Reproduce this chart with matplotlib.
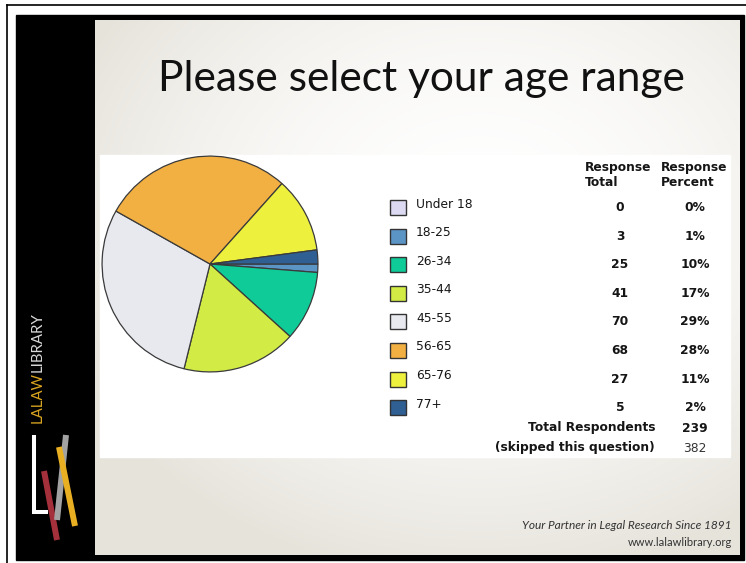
import numpy as np
import matplotlib
matplotlib.use('Agg')
import matplotlib.pyplot as plt
from matplotlib.patches import Rectangle

# ---------------- data ----------------
categories = ['Under 18', '18-25', '26-34', '35-44', '45-55', '56-65', '65-76', '77+']
totals = [0, 3, 25, 41, 70, 68, 27, 5]
percents = ['0%', '1%', '10%', '17%', '29%', '28%', '11%', '2%']
colors = ['#dcdaf2', '#5b95c6', '#0fcb98', '#d3ec45', '#e8e9ef', '#f2b043', '#eef03e', '#2f5f93']
total_respondents = '239'
skipped = '382'
title = 'Please select your age range'
footer1 = 'Your Partner in Legal Research Since 1891'
footer2 = 'www.lalawlibrary.org'

W, H = 746, 563
fig = plt.figure(figsize=(W / 100, H / 100), dpi=100)
fig.patch.set_facecolor('white')
bg = fig.add_axes([0, 0, 1, 1])
bg.axis('off')

# outer thin frame
bg.plot([7, 7], [5, H + 5], color='black', lw=1.2, zorder=1)
bg.plot([7, W + 5], [5, 5], color='black', lw=1.2, zorder=1)
# black slide frame + sidebar
bg.add_patch(Rectangle((16, 15), 744 - 16, 560 - 15, color='black', zorder=1))
# gradient content area
yy, xx = np.mgrid[20:555, 95:740]
d = np.hypot((xx - 480) / 440.0, (yy - 220) / 360.0)
t = np.clip(d, 0, 1) ** 1.8
c_center = np.array([1.0, 1.0, 1.0])
c_edge = np.array([0.905, 0.893, 0.862])
img = c_center * (1 - t[..., None]) + c_edge * t[..., None]
bg.imshow(img, extent=(95, 740, 555, 20), aspect='auto', zorder=2, interpolation='bilinear')
# white chart area
bg.add_patch(Rectangle((100, 155), 630, 302, color='white', zorder=3))
bg.set_xlim(0, W)
bg.set_ylim(H, 0)

renderer = fig.canvas.get_renderer()


def fit_width(txt, target):
    bb = txt.get_window_extent(renderer=renderer)
    txt.set_fontsize(txt.get_fontsize() * target / bb.width)


# title
tt = bg.text(421, 91, title, ha='center', va='baseline', fontsize=30,
             family='Lato', color='#111111', zorder=5)
fit_width(tt, 528)

# footer
f1 = bg.text(732, 529, footer1, ha='right', va='baseline', fontsize=8,
             family='Lato', style='italic', color='#333333', zorder=5)
fit_width(f1, 210)
f2 = bg.text(732, 546, footer2, ha='right', va='baseline', fontsize=8,
             family='Lato', color='#333333', zorder=5)
fit_width(f2, 105)

# sidebar vertical brand text
s1 = bg.text(38, 423, 'LALAW', rotation=90, rotation_mode='anchor', ha='left', va='center',
             fontsize=9, family='Lato', color='#d9a521', zorder=5)
s2 = bg.text(38, 380, 'LIBRARY', rotation=90, rotation_mode='anchor', ha='left', va='center',
             fontsize=9, family='Lato', color='#d8d8d8', zorder=5)
b1 = s1.get_window_extent(renderer=renderer)
b2 = s2.get_window_extent(renderer=renderer)
scale = 111.0 / (b1.height + b2.height)
s1.set_fontsize(9 * scale)
s2.set_fontsize(9 * scale)
b1 = s1.get_window_extent(renderer=renderer)
s2.set_position((38, 423 - b1.height))

# logo
bg.plot([34, 34, 48], [435, 512, 512], color='white', lw=2.9, solid_capstyle='butt',
        solid_joinstyle='miter', zorder=5)
bg.plot([44, 57], [471, 540], color='#a3303b', lw=4.3, solid_capstyle='butt', zorder=5)
bg.plot([66, 57], [435, 520], color='#a2a2a2', lw=4.3, solid_capstyle='butt', zorder=6)
bg.plot([59, 75], [447, 526], color='#e8af22', lw=4.3, solid_capstyle='butt', zorder=7)

# pie
pa = fig.add_axes([101 / W, (H - 373) / H, 218 / W, 218 / H])
pa.pie(totals, colors=colors, startangle=0, counterclock=False,
       wedgeprops=dict(edgecolor='#3a3a3a', linewidth=0.9))
pa.set_xlim(-1.01, 1.01)
pa.set_ylim(-1.01, 1.01)
pa.axis('off')

# table / legend
fs = 8.8
txtc = '#151515'
y0, dy = 207.5, 28.6
for i, (cat, v, p, c) in enumerate(zip(categories, totals, percents, colors)):
    y = y0 + dy * i
    bg.add_patch(Rectangle((390, y - 7.5), 16, 15, fc=c, ec='#333333', lw=1.0, zorder=5))
    bg.text(416, y - 3.5, cat, ha='left', va='center', fontsize=fs, family='DejaVu Sans',
            color=txtc, zorder=5)
    bg.text(620, y, str(v), ha='center', va='center', fontsize=fs, fontweight='bold',
            family='DejaVu Sans', color=txtc, zorder=5)
    bg.text(695, y, p, ha='center', va='center', fontsize=fs, fontweight='bold',
            family='DejaVu Sans', color=txtc, zorder=5)

for x, (a, b) in [(585, ('Response', 'Total')), (661, ('Response', 'Percent'))]:
    bg.text(x, 167, a, ha='left', va='center', fontsize=fs, fontweight='bold',
            family='DejaVu Sans', color=txtc, zorder=5)
    bg.text(x, 182, b, ha='left', va='center', fontsize=fs, fontweight='bold',
            family='DejaVu Sans', color=txtc, zorder=5)

bg.text(655, 428, 'Total Respondents', ha='right', va='center', fontsize=fs,
        fontweight='bold', family='DejaVu Sans', color=txtc, zorder=5)
bg.text(695, 428, total_respondents, ha='center', va='center', fontsize=fs,
        fontweight='bold', family='DejaVu Sans', color=txtc, zorder=5)
bg.text(655, 448, '(skipped this question)', ha='right', va='center', fontsize=fs,
        fontweight='bold', family='DejaVu Sans', color=txtc, zorder=5)
bg.text(695, 448, skipped, ha='center', va='center', fontsize=fs,
        family='DejaVu Sans', color='#333333', zorder=5)

fig.savefig('out.png', dpi=100, facecolor='white')
